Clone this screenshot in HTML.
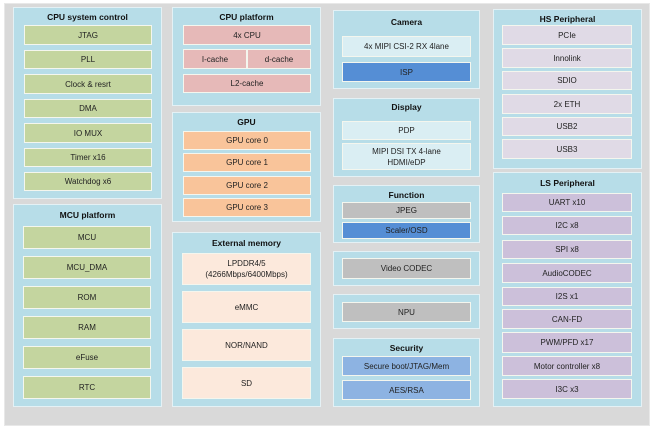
<!DOCTYPE html>
<html><head><meta charset="utf-8"><style>
body{margin:0;width:656px;height:432px;background:#fff;position:relative;overflow:hidden;font-family:"Liberation Sans",sans-serif;}
div{position:absolute;box-sizing:border-box;}
.g{left:4px;top:3px;width:646px;height:423px;background:#d9d9d9;border:1px solid #e8e8e8;}
.c{background:#b7dde8;border:1.5px solid #e4f1f5;}
.t{font-weight:bold;font-size:8.5px;text-align:center;color:#111;}
.b{border:1.5px solid #f4f6ee;font-size:8px;color:#222;display:flex;align-items:center;justify-content:center;text-align:center;line-height:11px;}
.gr{background:#c4d59f;}
.pk{background:#e6b9b8;}
.or{background:#f9c49a;}
.em{background:#fce9dc;}
.lb{background:#daeef3;}
.isp{background:#558ed5;}
.gy{background:#bfbfbf;}
.bl{background:#8db3e2;}
.hp{background:#e0dae6;}
.lp{background:#ccc0da;}
</style></head><body>
<div class="g"></div>

<div class="c" style="left:13px;top:7px;width:149px;height:192px"></div>
<div class="t" style="left:13px;top:12px;width:149px">CPU system control</div>
<div class="b gr" style="left:24px;top:25px;width:128px;height:20px">JTAG</div>
<div class="b gr" style="left:24px;top:50px;width:128px;height:19px">PLL</div>
<div class="b gr" style="left:24px;top:74px;width:128px;height:20px">Clock &amp; resrt</div>
<div class="b gr" style="left:24px;top:99px;width:128px;height:19px">DMA</div>
<div class="b gr" style="left:24px;top:123px;width:128px;height:20px">IO MUX</div>
<div class="b gr" style="left:24px;top:148px;width:128px;height:19px">Timer x16</div>
<div class="b gr" style="left:24px;top:172px;width:128px;height:19px">Watchdog x6</div>

<div class="c" style="left:13px;top:204px;width:149px;height:203px"></div>
<div class="t" style="left:13px;top:210px;width:149px">MCU platform</div>
<div class="b gr" style="left:23px;top:226px;width:128px;height:23px">MCU</div>
<div class="b gr" style="left:23px;top:256px;width:128px;height:23px">MCU_DMA</div>
<div class="b gr" style="left:23px;top:286px;width:128px;height:23px">ROM</div>
<div class="b gr" style="left:23px;top:316px;width:128px;height:23px">RAM</div>
<div class="b gr" style="left:23px;top:346px;width:128px;height:23px">eFuse</div>
<div class="b gr" style="left:23px;top:376px;width:128px;height:23px">RTC</div>

<div class="c" style="left:172px;top:7px;width:149px;height:99px"></div>
<div class="t" style="left:172px;top:12px;width:149px">CPU platform</div>
<div class="b pk" style="left:183px;top:25px;width:128px;height:20px">4x CPU</div>
<div class="b pk" style="left:183px;top:49px;width:64px;height:20px">I-cache</div>
<div class="b pk" style="left:247px;top:49px;width:64px;height:20px">d-cache</div>
<div class="b pk" style="left:183px;top:74px;width:128px;height:19px">L2-cache</div>

<div class="c" style="left:172px;top:112px;width:149px;height:110px"></div>
<div class="t" style="left:172px;top:117px;width:149px">GPU</div>
<div class="b or" style="left:183px;top:131px;width:128px;height:19px">GPU core 0</div>
<div class="b or" style="left:183px;top:153px;width:128px;height:19px">GPU core 1</div>
<div class="b or" style="left:183px;top:176px;width:128px;height:19px">GPU core 2</div>
<div class="b or" style="left:183px;top:198px;width:128px;height:19px">GPU core 3</div>

<div class="c" style="left:172px;top:232px;width:149px;height:175px"></div>
<div class="t" style="left:172px;top:238px;width:149px">External memory</div>
<div class="b em" style="left:182px;top:253px;width:129px;height:32px">LPDDR4/5<br>(4266Mbps/6400Mbps)</div>
<div class="b em" style="left:182px;top:291px;width:129px;height:32px">eMMC</div>
<div class="b em" style="left:182px;top:329px;width:129px;height:32px">NOR/NAND</div>
<div class="b em" style="left:182px;top:367px;width:129px;height:32px">SD</div>

<div class="c" style="left:333px;top:10px;width:147px;height:79px"></div>
<div class="t" style="left:333px;top:17px;width:147px">Camera</div>
<div class="b lb" style="left:342px;top:36px;width:129px;height:21px">4x MIPI CSI-2 RX 4lane</div>
<div class="b isp" style="left:342px;top:62px;width:129px;height:20px">ISP</div>

<div class="c" style="left:333px;top:98px;width:147px;height:79px"></div>
<div class="t" style="left:333px;top:102px;width:147px">Display</div>
<div class="b lb" style="left:342px;top:121px;width:129px;height:19px">PDP</div>
<div class="b lb" style="left:342px;top:143px;width:129px;height:27px">MIPI DSI TX 4-lane<br>HDMI/eDP</div>

<div class="c" style="left:333px;top:185px;width:147px;height:58px"></div>
<div class="t" style="left:333px;top:190px;width:147px">Function</div>
<div class="b gy" style="left:342px;top:202px;width:129px;height:17px">JPEG</div>
<div class="b isp" style="left:342px;top:222px;width:129px;height:17px">Scaler/OSD</div>

<div class="c" style="left:333px;top:251px;width:147px;height:35px"></div>
<div class="b gy" style="left:342px;top:258px;width:129px;height:21px">Video CODEC</div>

<div class="c" style="left:333px;top:294px;width:147px;height:35px"></div>
<div class="b gy" style="left:342px;top:302px;width:129px;height:20px">NPU</div>

<div class="c" style="left:333px;top:338px;width:147px;height:69px"></div>
<div class="t" style="left:333px;top:343px;width:147px">Security</div>
<div class="b bl" style="left:342px;top:356px;width:129px;height:20px">Secure boot/JTAG/Mem</div>
<div class="b bl" style="left:342px;top:380px;width:129px;height:20px">AES/RSA</div>

<div class="c" style="left:493px;top:9px;width:149px;height:160px"></div>
<div class="t" style="left:493px;top:14px;width:149px">HS Peripheral</div>
<div class="b hp" style="left:502px;top:25px;width:130px;height:20px">PCIe</div>
<div class="b hp" style="left:502px;top:48px;width:130px;height:20px">Innolink</div>
<div class="b hp" style="left:502px;top:71px;width:130px;height:19px">SDIO</div>
<div class="b hp" style="left:502px;top:94px;width:130px;height:20px">2x ETH</div>
<div class="b hp" style="left:502px;top:117px;width:130px;height:19px">USB2</div>
<div class="b hp" style="left:502px;top:139px;width:130px;height:20px">USB3</div>

<div class="c" style="left:493px;top:172px;width:149px;height:235px"></div>
<div class="t" style="left:493px;top:178px;width:149px">LS Peripheral</div>
<div class="b lp" style="left:502px;top:193px;width:130px;height:19px">UART x10</div>
<div class="b lp" style="left:502px;top:216px;width:130px;height:19px">I2C x8</div>
<div class="b lp" style="left:502px;top:240px;width:130px;height:19px">SPI x8</div>
<div class="b lp" style="left:502px;top:263px;width:130px;height:20px">AudioCODEC</div>
<div class="b lp" style="left:502px;top:287px;width:130px;height:19px">I2S x1</div>
<div class="b lp" style="left:502px;top:309px;width:130px;height:20px">CAN-FD</div>
<div class="b lp" style="left:502px;top:332px;width:130px;height:21px">PWM/PFD x17</div>
<div class="b lp" style="left:502px;top:356px;width:130px;height:20px">Motor controller x8</div>
<div class="b lp" style="left:502px;top:379px;width:130px;height:20px">I3C x3</div>
</body></html>
